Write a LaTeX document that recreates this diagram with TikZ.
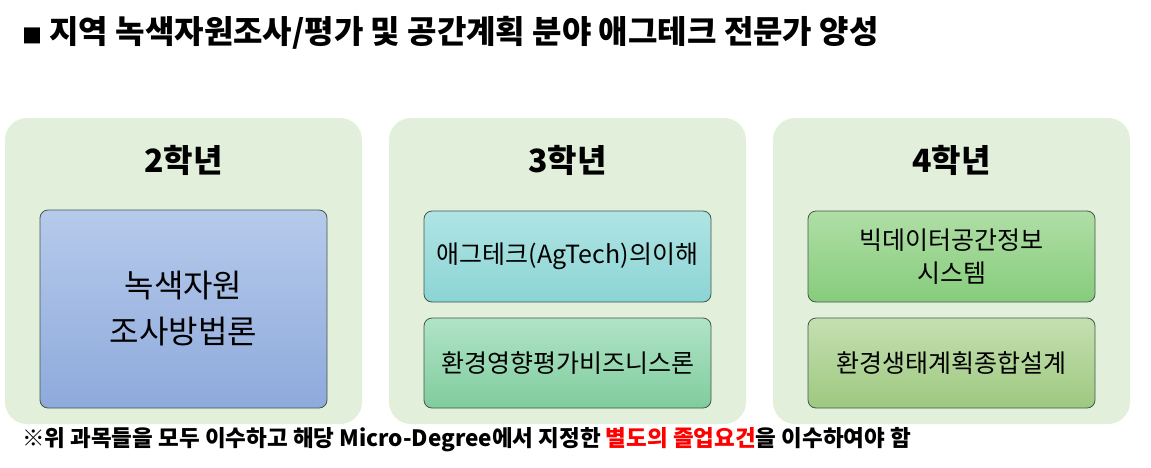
\documentclass[tikz,border=0pt]{standalone}
\usepackage{fontspec}
\setmainfont{Noto Sans CJK KR}
\definecolor{panelgreen}{HTML}{E2EFDA}
\definecolor{boxline}{HTML}{41574A}
\tikzset{
  panel/.style={fill=panelgreen, rounded corners=22pt},
  subject/.style={draw=boxline, line width=0.8pt, rounded corners=8pt},
  yearlab/.style={font=\fontsize{32}{38}\selectfont\bfseries},
  subjtext/.style={font=\fontsize{25}{33}\selectfont, align=center}
}
\begin{document}
\begin{tikzpicture}[x=1pt,y=-1pt]
  \useasboundingbox (0,0) rectangle (1151,467);
  \node[anchor=west, inner sep=0pt, font=\fontsize{32}{38}\selectfont\bfseries] (title) at (22,33)
    {\fontsize{20}{24}\selectfont■\fontsize{32}{38}\selectfont\ 지역 녹색자원조사/평가 및 공간계획 분야 애그테크 전문가 양성};
  % panels
  \foreach \px/\yr in {5/2,389/3,773/4} {
    \fill[panel] (\px,118) rectangle ++(357,306);
    \node[yearlab] (year\yr) at (\px+178.5,160) {\yr 학년};
  }
  % subject boxes
  \shade[subject, top color={rgb,255:red,182;green,202;blue,235}, bottom color={rgb,255:red,142;green,170;blue,220}] (40,210) rectangle (327,408);
  \node[font=\fontsize{32}{46}\selectfont, align=center] (green) at (183.5,309) {녹색자원\\조사방법론};
  \shade[subject, top color={rgb,255:red,176;green,228;blue,228}, bottom color={rgb,255:red,140;green,212;blue,212}] (424,211) rectangle (711,302);
  \node[subjtext] (agtech) at (567.5,256.5) {애그테크(AgTech)의이해};
  \shade[subject, top color={rgb,255:red,176;green,228;blue,200}, bottom color={rgb,255:red,128;green,204;blue,156}] (424,318) rectangle (711,408);
  \node[subjtext] (envbiz) at (567.5,363) {환경영향평가비즈니스론};
  \shade[subject, top color={rgb,255:red,176;green,222;blue,166}, bottom color={rgb,255:red,134;green,204;blue,124}] (808,211) rectangle (1095,302);
  \node[subjtext] (bigdata) at (951.5,256.5) {빅데이터공간정보\\시스템};
  \shade[subject, top color={rgb,255:red,196;green,224;blue,176}, bottom color={rgb,255:red,158;green,200;blue,128}] (808,318) rectangle (1095,408);
  \node[subjtext] (eco) at (951.5,363) {환경생태계획종합설계};
  % footnote
  \node[anchor=west, inner sep=0pt, font=\fontsize{22.5}{26}\selectfont\bfseries] (note) at (22,440)
    {※위 과목들을 모두 이수하고 해당 Micro-Degree에서 지정한 \textcolor{red}{별도의 졸업요건}을 이수하여야 함};
\end{tikzpicture}
\end{document}
